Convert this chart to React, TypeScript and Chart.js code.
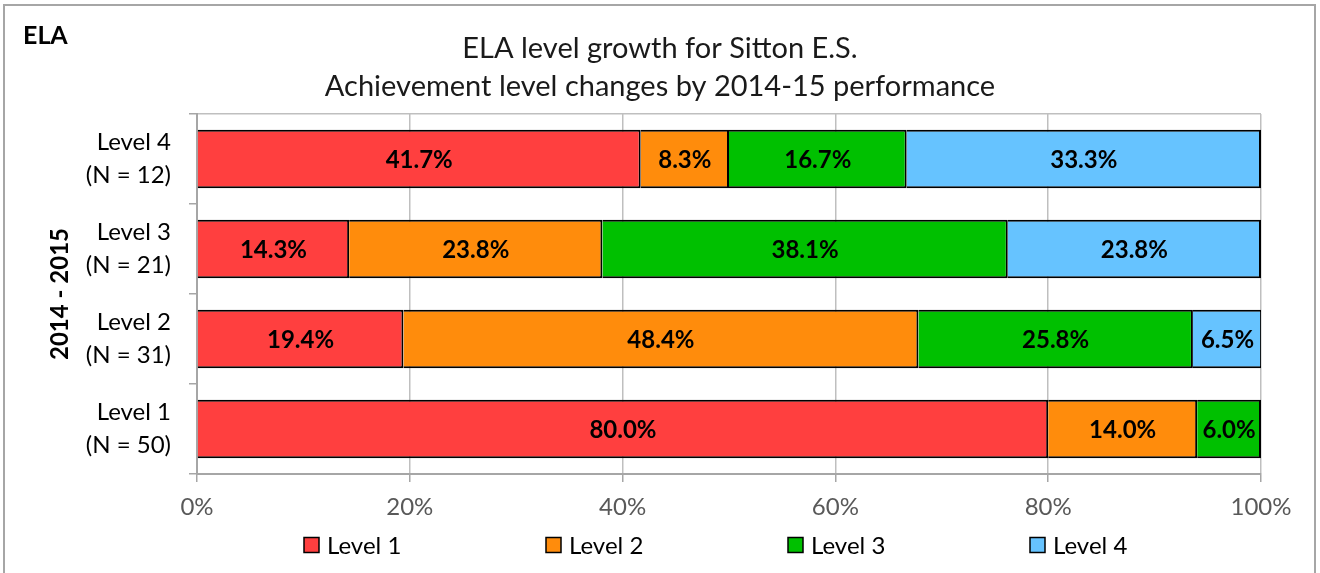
import React, { useEffect, useRef } from "react";
import { Chart, registerables } from "chart.js";

Chart.register(...registerables);

const categories: string[][] = [
  ["Level 4", "(N = 12)"],
  ["Level 3", "(N = 21)"],
  ["Level 2", "(N = 31)"],
  ["Level 1", "(N = 50)"],
];
const seriesNames = ["Level 1", "Level 2", "Level 3", "Level 4"];
const level1 = [41.7, 14.3, 19.4, 80.0];
const level2 = [8.3, 23.8, 48.4, 14.0];
const level3 = [16.7, 38.1, 25.8, 6.0];
const level4 = [33.3, 23.8, 6.5, 0];
const seriesColors = ["#FF3F3F", "#FF8C0C", "#00C000", "#66C3FF"];
const titleLines = ["ELA level growth for Sitton E.S.", "Achievement level changes by 2014-15 performance"];
const cornerLabel = "ELA";
const yAxisTitle = "2014 - 2015";
const xTicks = [0, 20, 40, 60, 80, 100];

const FONT = "Lato, 'Open Sans', sans-serif";

const framePlugin = {
  id: "frame",
  beforeDraw(chart: any) {
    const ctx = chart.ctx;
    ctx.save();
    ctx.fillStyle = "#ffffff";
    ctx.fillRect(0, 0, chart.width, chart.height);
    ctx.strokeStyle = "#a6a6a6";
    ctx.lineWidth = 2;
    ctx.strokeRect(4, 5, 1311, 700);
    ctx.restore();
  },
};

const labelsPlugin = {
  id: "barLabels",
  afterDatasetsDraw(chart: any) {
    const ctx = chart.ctx;
    ctx.save();
    ctx.font = `bold 24px ${FONT}`;
    ctx.fillStyle = "#000000";
    ctx.textAlign = "center";
    ctx.textBaseline = "middle";
    chart.data.datasets.forEach((ds: any, di: number) => {
      const meta = chart.getDatasetMeta(di);
      meta.data.forEach((el: any, i: number) => {
        const v = ds.data[i];
        if (!v) return;
        const { x, y, base } = el.getProps(["x", "y", "base"], true);
        ctx.fillText(v.toFixed(1) + "%", (x + base) / 2, y + 1);
      });
    });
    ctx.restore();
  },
};

const extrasPlugin = {
  id: "extras",
  afterDraw(chart: any) {
    const ctx = chart.ctx;
    ctx.save();
    ctx.textBaseline = "middle";
    // title
    ctx.font = `29px ${FONT}`;
    ctx.fillStyle = "#1a1a1a";
    ctx.textAlign = "center";
    titleLines.forEach((t, i) => ctx.fillText(t, 660, 49 + i * 38));
    // corner label
    ctx.font = `bold 25px ${FONT}`;
    ctx.fillStyle = "#000000";
    ctx.textAlign = "left";
    ctx.fillText(cornerLabel, 23, 36);
    // legend
    ctx.font = `24px ${FONT}`;
    chart.data.datasets.forEach((ds: any, i: number) => {
      const bx = 304 + i * 242;
      const cy = 545;
      ctx.fillStyle = ds.backgroundColor;
      ctx.fillRect(bx, cy - 7.5, 15, 15);
      ctx.strokeStyle = "#000000";
      ctx.lineWidth = 1.5;
      ctx.strokeRect(bx, cy - 7.5, 15, 15);
      ctx.fillStyle = "#000000";
      ctx.fillText(ds.label, bx + 23, cy + 1);
    });
    ctx.restore();
  },
};

export default function App() {
  const ref = useRef<HTMLCanvasElement | null>(null);
  useEffect(() => {
    document.body.style.margin = "0";
    const values = [level1, level2, level3, level4];
    const chart = new Chart(ref.current as HTMLCanvasElement, {
      type: "bar",
      data: {
        labels: categories,
        datasets: seriesNames.map((name, i) => ({
          label: name,
          data: values[i],
          backgroundColor: seriesColors[i],
          borderColor: "#000000",
          borderWidth: 2,
          barPercentage: 0.65,
          categoryPercentage: 1,
        })),
      },
      options: {
        indexAxis: "y",
        responsive: false,
        animation: false,
        layout: { padding: { left: 0, right: 59, top: 114, bottom: 0 } },
        plugins: {
          legend: { display: false },
          tooltip: { enabled: false },
          title: { display: false },
        },
        scales: {
          x: {
            stacked: true,
            min: 0,
            max: 100,
            afterBuildTicks: (scale: any) => {
              scale.ticks = xTicks.map((v) => ({ value: v }));
            },
            afterFit: (scale: any) => {
              scale.height = 99;
            },
            ticks: {
              callback: (v: any) => v + "%",
              color: "#595959",
              font: { family: FONT, size: 24 },
              padding: 11,
              maxRotation: 0,
            },
            grid: {
              color: "#bfbfbf",
              lineWidth: 1.5,
              tickLength: 8,
              tickColor: "#a6a6a6",
            },
            border: { color: "#a6a6a6", width: 2 },
          },
          y: {
            stacked: true,
            afterFit: (scale: any) => {
              scale.width = 197;
            },
            ticks: {
              color: "#000000",
              font: { family: FONT, size: 24, lineHeight: 33 / 24 },
              padding: 18,
            },
            grid: {
              offset: true,
              color: (c: any) => (c.index === 0 ? "#bfbfbf" : "rgba(0,0,0,0)"),
              tickColor: "#a6a6a6",
              lineWidth: 1.5,
              tickLength: 8,
            },
            border: { color: "#a6a6a6", width: 2 },
            title: {
              display: true,
              text: yAxisTitle,
              color: "#000000",
              font: { family: FONT, size: 24, weight: "bold", lineHeight: 1.2 },
              padding: { top: 46, bottom: 0 },
            },
          },
        },
      },
      plugins: [framePlugin, labelsPlugin, extrasPlugin],
    } as any);
    return () => chart.destroy();
  }, []);
  return (
    <div style={{ position: "fixed", left: 0, top: 0, width: 1320, height: 573 }}>
      <canvas ref={ref} width={1320} height={573} style={{ display: "block" }} />
    </div>
  );
}
